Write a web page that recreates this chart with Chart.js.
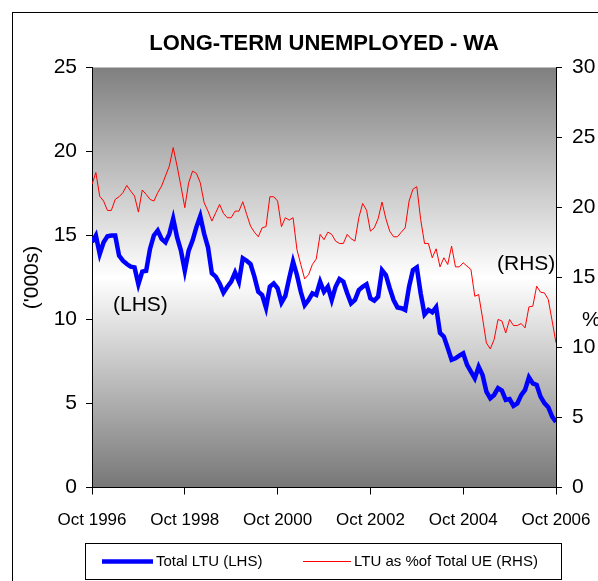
<!DOCTYPE html>
<html>
<head>
<meta charset="utf-8">
<script src="https://cdn.jsdelivr.net/npm/chart.js@4.4.1/dist/chart.umd.min.js"></script>
<style>
  html, body { margin: 0; padding: 0; background: #fff; overflow: hidden; }
  #frame { position: absolute; left: 12px; top: 12px; width: 700px; height: 700px; border: 1px solid #000; }
  #wrap { position: absolute; left: 0; top: 0; width: 598px; height: 581px; }
</style>
</head>
<body>
<div id="frame"></div>
<div id="wrap"><canvas id="chart" width="598" height="581"></canvas></div>
<script>
// monthly, Oct 1996 .. Oct 2006
const tickLabels = [`Oct 1996`, `Oct 1998`, `Oct 2000`, `Oct 2002`, `Oct 2004`, `Oct 2006`];

// Total long-term unemployed, '000s (left axis)
const totalLTU = [
	14.6, 15.0, 13.9, 14.6, 14.95, 15.0, 15.0, 13.8, 13.5, 13.3,
	13.15, 13.1, 12.1, 12.85, 12.9, 14.2, 15.0, 15.3, 14.8, 14.6,
	15.1, 16.0, 14.9, 14.1, 12.9, 14.1, 14.7, 15.5, 16.15, 15.1,
	14.3, 12.75, 12.55, 12.15, 11.6, 11.95, 12.25, 12.8, 12.25, 13.65,
	13.5, 13.3, 12.55, 11.65, 11.45, 10.7, 11.95, 12.15, 11.86, 11.0,
	11.4, 12.45, 13.44, 12.65, 11.65, 10.86, 11.16, 11.56, 11.46, 12.25,
	11.65, 11.95, 11.16, 11.95, 12.41, 12.25, 11.56, 10.96, 11.16, 11.75,
	11.95, 12.1, 11.26, 11.12, 11.36, 12.94, 12.65, 11.86, 11.16, 10.72,
	10.67, 10.57, 11.95, 12.94, 13.1, 11.56, 10.3, 10.57, 10.43, 10.74,
	9.2, 8.98, 8.3, 7.6, 7.69, 7.85, 7.99, 7.3, 6.9, 6.5,
	7.19, 6.7, 5.71, 5.31, 5.51, 5.91, 5.77, 5.21, 5.26, 4.86,
	5.0, 5.5, 5.81, 6.56, 6.2, 6.1, 5.41, 5.02, 4.78, 4.22,
	3.9
];

// LTU as % of total unemployed (right axis)
const ltuShare = [
	21.65, 22.5, 20.8, 20.46, 19.79, 19.79, 20.58, 20.77, 21.06, 21.58,
	21.17, 20.82, 19.67, 21.25, 20.94, 20.58, 20.46, 21.06, 21.53, 22.25,
	22.96, 24.28, 22.96, 21.53, 19.99, 21.77, 22.6, 22.44, 21.77, 20.34,
	19.74, 19.03, 19.63, 20.22, 19.58, 19.27, 19.27, 19.74, 19.74, 20.41,
	19.51, 18.67, 18.24, 17.91, 18.55, 18.63, 20.77, 20.77, 20.46, 18.63,
	19.27, 19.1, 19.27, 17.0, 15.93, 14.9, 15.2, 15.93, 16.33, 18.08,
	17.7, 18.24, 18.08, 17.6, 17.43, 17.43, 18.08, 17.77, 17.6, 19.27,
	20.29, 19.81, 18.31, 18.55, 19.2, 20.39, 19.2, 18.31, 17.91, 17.91,
	18.24, 18.55, 20.46, 21.3, 21.49, 19.15, 17.43, 17.43, 16.41, 17.05,
	15.76, 16.41, 15.93, 17.24, 15.76, 15.76, 16.05, 15.81, 15.57, 13.66,
	13.78, 12.1, 10.33, 9.9, 10.57, 12.0, 11.9, 11.04, 12.0, 11.57,
	11.57, 11.71, 11.4, 12.9, 12.95, 14.38, 13.95, 13.9, 13.43, 11.9,
	10.33
];

const SANS = `'Liberation Sans', Arial, sans-serif`;

const toPoints = values => values.map((y, x) => ({x, y}));

// fixed scale sizes so the plot box lands where the original one is
const fixSize = (w, h) => scale => {
	if (w !== null) { scale.width = w; }
	if (h !== null) { scale.height = h; }
	scale.paddingLeft = 0;
	scale.paddingRight = 0;
	scale.paddingTop = 0;
	scale.paddingBottom = 0;
};

const plotBackground = {
	id: `plotBackground`,
	beforeDraw(chart) {
		const {ctx, chartArea: a} = chart;
		const g = ctx.createLinearGradient(0, a.top, 0, a.bottom);
		g.addColorStop(0, `#7f7f7f`);
		g.addColorStop(0.5, `#ffffff`);
		g.addColorStop(1, `#777777`);
		ctx.save();
		ctx.fillStyle = g;
		ctx.fillRect(a.left, a.top, a.right - a.left, a.bottom - a.top);
		ctx.restore();
	}
};

// side notes and the boxed legend at the bottom
const notes = {
	id: `notes`,
	afterDraw(chart) {
		const {ctx, chartArea: a} = chart;
		ctx.save();
		ctx.fillStyle = `#000`;
		ctx.textBaseline = `middle`;
		ctx.font = `21px ${SANS}`;
		ctx.fillText(`(LHS)`, a.left + 21, 305);
		ctx.fillText(`(RHS)`, a.left + 405, 264);
		ctx.fillText(`%`, a.right + 26, 320);

		// legend
		ctx.fillStyle = `#fff`;
		ctx.fillRect(85.5, 543.5, 476, 36);
		ctx.strokeStyle = `#000`;
		ctx.lineWidth = 1;
		ctx.strokeRect(85.5, 543.5, 476, 36);
		const items = [{x: 102, len: 51}, {x: 303, len: 48}];
		ctx.font = `15px ${SANS}`;
		chart.data.datasets.forEach((ds, i) => {
			const it = items[i];
			ctx.strokeStyle = ds.borderColor;
			ctx.lineWidth = ds.borderWidth;
			ctx.beginPath();
			ctx.moveTo(it.x, 561.5);
			ctx.lineTo(it.x + it.len, 561.5);
			ctx.stroke();
			ctx.fillStyle = `#000`;
			ctx.fillText(ds.label, it.x + it.len + 3, 562);
		});
		ctx.restore();
	}
};

new Chart(document.getElementById(`chart`), {
	type: `line`,
	data: {
		datasets: [
			{
				label: `Total LTU (LHS)`,
				data: toPoints(totalLTU),
				yAxisID: `y`,
				borderColor: `#0000ff`,
				backgroundColor: `#0000ff`,
				borderWidth: 4.5,
				pointRadius: 0,
				tension: 0
			},
			{
				label: `LTU as %of Total UE (RHS)`,
				data: toPoints(ltuShare),
				yAxisID: `y1`,
				borderColor: `#ff0000`,
				backgroundColor: `#ff0000`,
				borderWidth: 1,
				pointRadius: 0,
				tension: 0
			}
		]
	},
	options: {
		responsive: false,
		animation: false,
		layout: {autoPadding: false, padding: {top: 30.8, left: 0, right: 0, bottom: 0}},
		scales: {
			x: {
				type: `linear`,
				min: 0,
				max: 120,
				grid: {drawOnChartArea: false, tickLength: 7, color: `#000`},
				border: {color: `#000`},
				ticks: {
					stepSize: 24,
					autoSkip: false,
					maxRotation: 0,
					padding: 16,
					color: `#000`,
					font: {family: SANS, size: 17},
					callback: val => tickLabels[val / 24]
				},
				afterFit: fixSize(null, 93.5)
			},
			y: {
				position: `left`,
				min: 0,
				max: 25,
				grid: {drawOnChartArea: false, tickLength: 6, color: `#000`},
				border: {color: `#000`},
				ticks: {stepSize: 5, padding: 9, color: `#000`, font: {family: SANS, size: 21}},
				title: {display: true, text: `('000s)`, color: `#000`, font: {family: SANS, size: 21}, padding: {top: 20, bottom: 0}},
				afterFit: fixSize(92, null)
			},
			y1: {
				position: `right`,
				min: 0,
				max: 30,
				grid: {drawOnChartArea: false, tickLength: 6, color: `#000`},
				border: {color: `#000`},
				ticks: {stepSize: 5, padding: 10, color: `#000`, font: {family: SANS, size: 21}},
				afterFit: fixSize(42, null)
			}
		},
		plugins: {
			legend: {display: false},
			tooltip: {enabled: false},
			title: {
				display: true,
				fullSize: false,
				text: `LONG-TERM UNEMPLOYED - WA`,
				color: `#000`,
				font: {family: SANS, size: 22, weight: `bold`},
				padding: {top: 0, bottom: 10.3}
			}
		}
	},
	plugins: [plotBackground, notes]
});
</script>
</body>
</html>
